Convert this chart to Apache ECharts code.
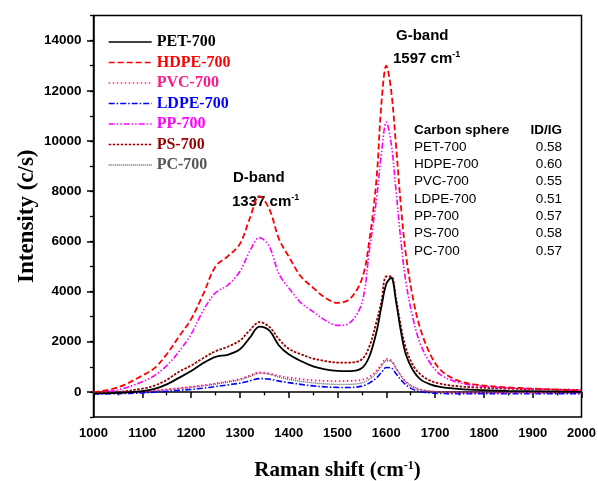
<!DOCTYPE html>
<html>
<head>
<meta charset="utf-8">
<script src="https://cdn.jsdelivr.net/npm/echarts@6/dist/echarts.min.js"></script>
<style>
html,body{margin:0;padding:0;background:#fff;}
#chart{width:598px;height:481px;}
</style>
</head>
<body>
<div id="chart"></div>
<script>
// Raman shift (cm-1) sample positions
const wavenumbers = [1000,1050,1100,1125,1150,1175,1200,1225,1250,1275,1300,1320,1340,1360,1380,1400,1425,1450,1475,1500,1525,1550,1565,1580,1590,1600,1610,1620,1630,1640,1655,1670,1690,1710,1740,1780,1850,1925,2000];

const seriesNames = ['PET-700','HDPE-700','PVC-700','LDPE-700','PP-700','PS-700','PC-700'];

const pet700  = [-60,-40,30,120,300,560,830,1150,1400,1480,1700,2150,2600,2450,1850,1500,1230,1020,900,840,830,950,1400,2400,3400,4300,4550,3600,2400,1500,850,500,300,200,130,80,40,20,0];
const hdpe700 = [-20,180,650,950,1500,2200,2900,3900,5000,5400,5900,6900,7800,7300,6100,5400,4600,4150,3750,3550,3700,4500,6000,8500,11500,13000,12000,9800,7400,5500,3700,2500,1500,900,500,300,180,110,60];
const pvc700  = [-30,-20,20,60,100,150,200,260,340,420,520,650,780,740,640,570,510,460,440,430,440,480,600,850,1100,1320,1250,950,650,400,200,90,30,0,-20,-30,-30,-30,-30];
const ldpe700 = [-80,-70,-40,-10,20,60,100,150,210,280,350,440,530,510,430,370,300,240,200,180,175,230,350,560,780,970,950,720,480,280,100,10,-40,-60,-70,-70,-70,-70,-70];
const pp700   = [-20,80,400,650,1050,1600,2300,3250,3950,4250,4800,5600,6150,5800,4700,4150,3550,3200,2850,2650,2750,3550,5600,7700,9500,10750,9900,8000,6000,4400,2900,1900,1150,700,420,260,160,100,60];
const ps700   = [-30,0,130,250,480,800,1050,1350,1620,1800,2050,2450,2780,2600,2100,1720,1500,1330,1230,1170,1170,1300,1800,2800,3600,4600,4600,3700,2600,1750,1050,700,450,330,240,180,130,100,80];
const pc700   = [-40,-30,10,40,80,130,180,240,310,390,480,610,740,700,590,500,420,360,320,300,300,360,500,760,1020,1240,1220,950,650,400,200,90,30,0,-20,-30,-30,-40,-40];

const yTickValues = [0,2000,4000,6000,8000,10000,12000,14000];

const tableRows = ['PET-700','HDPE-700','PVC-700','LDPE-700','PP-700','PS-700','PC-700'];
const tableRatios = ['0.58','0.60','0.55','0.51','0.57','0.58','0.57'];

const allValues = [pet700,hdpe700,pvc700,ldpe700,pp700,ps700,pc700];
const colors = ['#000000','#ff0000','#ff1a8c','#0000ff','#ff00ff','#990000','#555555'];
const dashes = ['solid',[6,3],[1.5,2.5],[6,2,1.5,2],[6,2,1.5,2,1.5,2],[2.5,1.5],[1,1]];
const widths = [1.8,1.8,1.8,1.6,1.6,1.8,1.4];

const chart = echarts.init(document.getElementById('chart'), null, {renderer:'canvas'});

const series = seriesNames.map((name,i)=>({
  name: name,
  type: 'line',
  smooth: 0.35,
  symbol: 'none',
  data: wavenumbers.map((w,k)=>[w, allValues[i][k]]),
  lineStyle: {color: colors[i], width: widths[i], type: dashes[i]},
  itemStyle: {color: colors[i]},
  z: 10 - i
}));

const sans = 'Liberation Sans, Arial, sans-serif';
const serif = 'Liberation Serif, Times New Roman, serif';

const graphics = [
  {type:'text', left: 233, top: 170, style:{text:'D-band', font:'bold 15px ' + sans, fill:'#000'}},
  {type:'text', left: 232, top: 193, style:{text:'{a|1337 cm}{s|-1}', rich:{a:{font:'bold 15px ' + sans, fill:'#000'}, s:{font:'bold 9px ' + sans, fill:'#000', padding:[0,0,8,0]}}}},
  {type:'text', left: 396, top: 28, style:{text:'G-band', font:'bold 15px ' + sans, fill:'#000'}},
  {type:'text', left: 393, top: 50, style:{text:'{a|1597 cm}{s|-1}', rich:{a:{font:'bold 15px ' + sans, fill:'#000'}, s:{font:'bold 9px ' + sans, fill:'#000', padding:[0,0,8,0]}}}},
  {type:'text', left: 414, top: 123, style:{text:'Carbon sphere', font:'bold 13.5px ' + sans, fill:'#000'}},
  {type:'text', right: 598-562, top: 123, style:{text:'ID/IG', font:'bold 13.5px ' + sans, fill:'#000', align:'right'}}
];
tableRows.forEach((r,i)=>{
  graphics.push({type:'text', left: 414, top: 140 + i*17.3, style:{text:r, font:'13.5px ' + sans, fill:'#000'}});
  graphics.push({type:'text', right: 598-562, top: 140 + i*17.3, style:{text:tableRatios[i], font:'13.5px ' + sans, fill:'#000', align:'right'}});
});

const option = {
  backgroundColor: '#fff',
  animation: false,
  grid: {left: 93.5, right: 16.5, top: 15.5, bottom: 64, outerBoundsMode: 'none', show: true, borderColor: '#000', borderWidth: 1.5, backgroundColor: 'transparent'},
  legend: {
    orient: 'vertical', left: 103, top: 29, itemWidth: 43, itemHeight: 14, itemGap: 4.5,
    itemStyle: {opacity: 0},
    lineStyle: {width: 1.4},
    textStyle: {fontFamily: serif, fontWeight: 'bold', fontSize: 16},
    data: seriesNames.map((n,i)=>({name:n, textStyle:{color: colors[i]}}))
  },
  xAxis: {
    type: 'value', min: 1000, max: 2000, interval: 100,
    name: '{a|Raman shift (cm}{s|-1}{a|)}', nameLocation: 'middle', nameGap: 43, nameMoveOverlap: false,
    nameTextStyle: {rich: {a:{fontFamily: serif, fontWeight:'bold', fontSize: 21, color:'#000'}, s:{fontFamily: serif, fontWeight:'bold', fontSize: 12, color:'#000', padding:[0,0,10,0]}}},
    axisLine: {show: true, lineStyle: {color:'#000', width: 1.5}},
    axisTick: {show: true, length: 6, lineStyle: {color:'#000', width: 1.5}},
    minorTick: {show: true, splitNumber: 2, length: 3.5, lineStyle: {color:'#000', width: 1.3}},
    axisLabel: {color:'#000', fontFamily: sans, fontWeight:'bold', fontSize: 13, margin: 10, formatter: v => String(v)},
    splitLine: {show: false}
  },
  yAxis: [{
    type: 'value', min: -1000, max: 15000, interval: 1000,
    name: 'Intensity (c/s)', nameLocation: 'middle', nameGap: 55, nameRotate: 90, nameMoveOverlap: false,
    nameTextStyle: {fontFamily: serif, fontWeight:'bold', fontSize: 23, color:'#000'},
    axisLine: {show: true, lineStyle: {color:'#000', width: 1.5}},
    axisTick: {show: true, length: 3.5, lineStyle: {color:'#000', width: 1.3}},
    axisLabel: {color:'#000', fontFamily: sans, fontWeight:'bold', fontSize: 13.5, margin: 12,
      formatter: v => (v >= 0 && v <= 14000 && v % 2000 === 0) ? String(v) : ''},
    splitLine: {show: false}
  },{
    type: 'value', min: -1000, max: 15000, position: 'left',
    axisLine: {show: false},
    axisTick: {show: true, length: 6.5, customValues: yTickValues, lineStyle: {color:'#000', width: 1.5}},
    axisLabel: {show: false, customValues: yTickValues},
    splitLine: {show: false}
  }],
  graphic: graphics,
  series: series
};
chart.setOption(option);
</script>
</body>
</html>
